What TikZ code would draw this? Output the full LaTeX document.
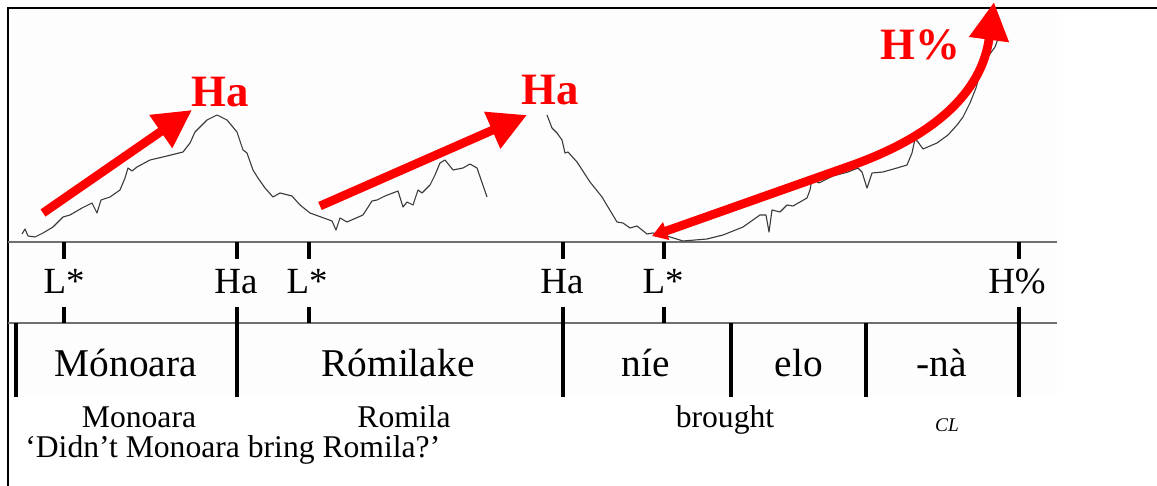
\documentclass[tikz,border=0pt]{standalone}
\usepackage{fontspec}
\setmainfont{Liberation Serif}
\usepackage{xcolor}
\usepackage{tikz}
\usetikzlibrary{arrows.meta}
\definecolor{PRed}   {HTML}{FF0000}
\definecolor{PCurve} {HTML}{3A3A3A}
\definecolor{PRule}  {HTML}{707070}
\definecolor{PPanel} {HTML}{FDFDFD}
\definecolor{PInk}   {HTML}{000000}
\tikzset{
  redarrow/.style={draw=PRed,line width=1.75mm,-{Triangle[length=7.6mm,width=7.6mm]}},
  redlabel/.style={text=PRed,font=\fontsize{25.5}{28}\selectfont\bfseries,inner sep=0pt,anchor=base},
  tonelabel/.style={text=PInk,font=\fontsize{21}{24}\selectfont,inner sep=0pt,anchor=base},
  wordlabel/.style={text=PInk,font=\fontsize{22.4}{26}\selectfont,inner sep=0pt,anchor=base},
  glosslabel/.style={text=PInk,font=\fontsize{18}{21}\selectfont,inner sep=0pt,anchor=base},
  tonetick/.style={draw=PInk,line width=0.8mm},
  tierrule/.style={draw=PRule,line width=0.3mm},
  pitchline/.style={draw=PCurve,line width=0.22mm,line join=round}
}
\begin{document}
\begin{tikzpicture}[x=0.2mm,y=-0.2mm]
    \useasboundingbox (0,0) rectangle (1157,486);
    % Panel and frame
    \fill[PPanel] (8,8) rectangle (1057,397);
    \draw[PInk,line width=0.4mm] (8,486) -- (8,8) -- (1157,8);
    % Tier rules
    \draw[tierrule] (8,242) -- (1057,242);
    \draw[tierrule] (8,323) -- (1057,323);
    % Pitch track
    \draw[pitchline] (22,234) -- (25,229) -- (28,236) -- (35,237) -- (43,233) -- (53,227)
      -- (63,217) -- (70,215) -- (82,208) -- (92,203) -- (97,213) -- (101,200) -- (110,197)
      -- (120,190) -- (125,178) -- (128,168) -- (132,171) -- (137,167) -- (150,160) -- (167,156)
      -- (183,152) -- (190,143) -- (195,132) -- (207,120) -- (217,115) -- (227,120) -- (237,132)
      -- (243,150) -- (247,153) -- (253,170) -- (258,178) -- (265,188) -- (273,197) -- (280,193)
      -- (292,196) -- (300,205) -- (310,213) -- (332,221) -- (336,230) -- (340,218) -- (347,222)
      -- (363,215) -- (372,201) -- (377,200) -- (385,196) -- (398,191) -- (403,207) -- (407,202)
      -- (413,205) -- (418,190) -- (422,193) -- (425,190) -- (430,185) -- (435,175) -- (440,163)
      -- (445,160) -- (453,170) -- (463,168) -- (470,164) -- (477,168) -- (487,197);
    \draw[pitchline] (547,115) -- (552,128) -- (557,133) -- (562,140) -- (565,153) -- (568,152)
      -- (577,162) -- (590,182) -- (602,197) -- (617,222) -- (623,223) -- (630,228) -- (637,226)
      -- (642,230) -- (647,234) -- (653,233) -- (667,236) -- (683,241) -- (707,239) -- (723,235)
      -- (743,227) -- (760,215) -- (766,215) -- (769,232) -- (772,210) -- (780,212) -- (787,205)
      -- (793,206) -- (807,198) -- (810,190) -- (812,179) -- (819,183) -- (833,176) -- (848,172)
      -- (858,168) -- (862,172) -- (867,188) -- (872,173) -- (883,172) -- (897,168) -- (907,165)
      -- (912,153) -- (915,139) -- (918,142) -- (923,149) -- (937,143) -- (948,135) -- (957,125)
      -- (963,117) -- (970,103) -- (976,88) -- (980,73) -- (987,58) -- (995,47) -- (999,36);
    % Red accent labels
    \node[redlabel] (haA) at (220,107) {Ha};
    \node[redlabel] (haB) at (550,105) {Ha};
    \node[redlabel] (hpct) at (920,60) {H\%};
    % Red arrows
    \coordinate (riseAs) at (43,213);
    \coordinate (riseAe) at (192,110);
    \coordinate (riseBs) at (320,206);
    \coordinate (riseBe) at (527,115);
    \coordinate (riseCs) at (652,236);
    \coordinate (riseCm) at (850,166);
    \coordinate (riseCe) at (994,2);
    \draw[redarrow] (riseAs) -- (riseAe);
    \draw[redarrow] (riseBs) -- (riseBe);
    \draw[redarrow,{Triangle[length=3mm,width=3.6mm]}-{Triangle[length=7.6mm,width=7.6mm]}]
      (riseCs) -- (riseCm) .. controls (935,136) and (982,92) .. (riseCe);
    % Tone tier ticks
    \draw[tonetick] (64,242) -- (64,259);   \draw[tonetick] (64,307) -- (64,323);
    \draw[tonetick] (237,242) -- (237,259); \draw[tonetick] (237,307) -- (237,397);
    \draw[tonetick] (309,242) -- (309,259); \draw[tonetick] (309,307) -- (309,323);
    \draw[tonetick] (563,242) -- (563,259); \draw[tonetick] (563,307) -- (563,397);
    \draw[tonetick] (664,242) -- (664,259); \draw[tonetick] (664,307) -- (664,323);
    \draw[tonetick] (1019,242) -- (1019,259); \draw[tonetick] (1019,307) -- (1019,397);
    % Word boundaries
    \draw[tonetick] (16,323) -- (16,397);
    \draw[tonetick] (731,323) -- (731,397);
    \draw[tonetick] (866,323) -- (866,397);
    % Tone labels
    \node[tonelabel] (lsA) at (64,294) {L*};
    \node[tonelabel] (hbA) at (236,294) {Ha};
    \node[tonelabel] (lsB) at (307,294) {L*};
    \node[tonelabel] (hbB) at (562,294) {Ha};
    \node[tonelabel] (lsC) at (663,294) {L*};
    \node[tonelabel] (hpc) at (1017,294) {H\%};
    % Words
    \node[wordlabel] (wMono) at (126,377) {Mónoara};
    \node[wordlabel] (wRomi) at (398,377) {Rómilake};
    \node[wordlabel] (wNie)  at (646,377) {níe};
    \node[wordlabel] (wElo)  at (799,377) {elo};
    \node[wordlabel] (wNa)   at (942,377) {-nà};
    % Glosses
    \node[glosslabel] (gMono) at (139,428) {Monoara};
    \node[glosslabel] (gRomi) at (404,428) {Romila};
    \node[glosslabel] (gBrou) at (725,428) {brought};
    \node[text=PInk,font=\fontsize{11}{13}\selectfont\itshape,inner sep=0pt,anchor=base] (gCl) at (947,432) {CL};
    \node[glosslabel,anchor=base west] (gFree) at (25,458) {‘Didn’t Monoara bring Romila?’};
  \end{tikzpicture}
\end{document}
